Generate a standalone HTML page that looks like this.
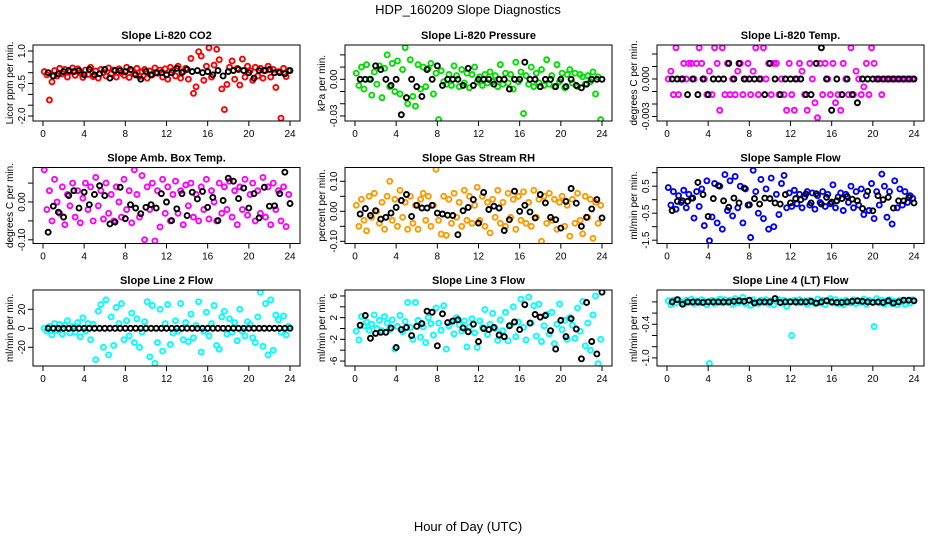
<!DOCTYPE html>
<html><head><meta charset="utf-8"><title>HDP_160209 Slope Diagnostics</title>
<style>
html,body{margin:0;padding:0;background:#fff;}
svg{display:block;font-family:"Liberation Sans",sans-serif;}
</style></head>
<body>
<svg id="chart" width="936" height="540" viewBox="0 0 936 540" xmlns="http://www.w3.org/2000/svg">
<rect x="0" y="0" width="936" height="540" fill="#fff"/>
<text x="468" y="14" text-anchor="middle" font-size="13">HDP_160209  Slope Diagnostics</text>
<text x="468" y="531" text-anchor="middle" font-size="13">Hour of Day (UTC)</text>
</svg>
<script>
// ---- shared data ----
const hoursBlack = [0.5,1,1.5,2,2.5,3,3.5,4,4.5,5,5.5,6,6.5,7,7.5,8,8.5,9,9.5,10,10.5,11,11.5,12,12.5,13,13.5,14,14.5,15,15.5,16,16.5,17,17.5,18,18.5,19,19.5,20,20.5,21,21.5,22,22.5,23,23.5,24];
const hoursColor = [0.125,0.375,0.625,0.875,1.125,1.375,1.625,1.875,2.125,2.375,2.625,2.875,3.125,3.375,3.625,3.875,4.125,4.375,4.625,4.875,5.125,5.375,5.625,5.875,6.125,6.375,6.625,6.875,7.125,7.375,7.625,7.875,8.125,8.375,8.625,8.875,9.125,9.375,9.625,9.875,10.125,10.375,10.625,10.875,11.125,11.375,11.625,11.875,12.125,12.375,12.625,12.875,13.125,13.375,13.625,13.875,14.125,14.375,14.625,14.875,15.125,15.375,15.625,15.875,16.125,16.375,16.625,16.875,17.125,17.375,17.625,17.875,18.125,18.375,18.625,18.875,19.125,19.375,19.625,19.875,20.125,20.375,20.625,20.875,21.125,21.375,21.625,21.875,22.125,22.375,22.625,22.875,23.125,23.375,23.625,23.875];
const xTicks = [0,4,8,12,16,20,24];
const xTickLabels = ["0","4","8","12","16","20","24"];

// ---- panel 1: CO2 ----
const co2Color = [0.05,-0.1,-1.26,-0.42,0.1,-0.15,0.2,-0.05,0.15,-0.2,0.05,0.22,
-0.12,0.18,0.0,-0.22,0.12,-0.08,0.25,-0.18,0.08,-0.25,0.15,0.02,
-0.15,0.22,-0.05,0.12,-0.2,0.18,0.0,-0.12,0.25,-0.22,0.1,-0.05,
0.2,-0.18,0.05,0.15,-0.25,0.08,-0.1,0.22,-0.02,0.12,-0.2,0.18,
-0.3,0.25,0.1,-0.15,0.3,-0.25,0.05,0.2,-0.3,0.66,-0.95,-0.65,
0.97,0.77,-0.35,0.3,1.15,-0.2,0.35,1.08,0.6,-0.75,-1.7,-0.54,
0.25,0.54,-0.3,0.2,-0.57,0.63,-0.2,0.3,0.1,-0.35,0.25,-0.15,
0.2,-0.25,0.1,0.3,-0.2,0.15,-0.68,0.05,-2.1,0.2,-0.18,0.1];
const co2Black = [0.0,-0.15,-0.05,0.05,0.1,0.05,0.1,-0.1,0.15,-0.1,-0.05,0.15,-0.25,0.1,0.1,0.05,0.15,-0.1,-0.3,0.05,-0.1,0.0,0.0,-0.1,0.0,0.2,0.0,0.15,0.05,0.1,0.0,0.05,-0.1,0.1,-0.15,0.05,0.1,0.15,0.1,0.0,-0.25,0.1,0.1,0.15,0.0,0.0,-0.05,0.1];
const co2Ticks = [1,0.5,0,-0.5,-1,-1.5,-2];
const co2TickLabels = ["1.0","","","-0.5","","","-2.0"];

// ---- panel 2: pressure ----
const presColor = [0.005,-0.005,0.01,-0.008,0.012,0.0,-0.013,0.006,-0.004,0.011,-0.015,0.009,
0.02,-0.006,0.013,-0.01,0.015,-0.012,0.008,0.026,-0.02,0.016,-0.014,-0.022,
0.012,-0.008,0.01,-0.006,0.009,0.013,-0.012,0.005,-0.033,0.007,-0.002,-0.004,
0.004,-0.005,0.011,0.003,-0.006,0.008,-0.003,0.005,-0.007,0.004,0.01,-0.002,
0.002,-0.005,0.004,-0.003,0.006,-0.002,0.003,-0.006,0.012,-0.004,0.005,-0.003,
0.004,-0.008,0.014,-0.002,0.006,-0.028,0.003,-0.004,0.01,-0.006,0.005,-0.003,
0.008,-0.005,0.016,-0.004,0.003,-0.006,0.012,-0.002,0.005,-0.007,0.004,0.008,
-0.003,0.005,-0.006,0.004,0.002,-0.004,0.003,-0.002,0.006,-0.012,0.002,-0.033];
const presBlack = [0.0,0.0,0.0,0.011,0.008,0.0,-0.005,0.0,-0.029,-0.015,0.0,-0.006,-0.014,0.008,0.0,0.011,-0.005,0.0,0.0,0.0,-0.005,0.009,-0.005,0.0,0.0,0.0,-0.004,0.0,0.0,-0.008,0.0,0.0,0.014,0.0,0.0,-0.006,0.0,0.0,-0.006,0.0,-0.006,0.0,-0.005,-0.007,-0.004,0.0,0.0,0.0];
const presTicks = [0.02,0.01,0,-0.01,-0.02,-0.03];
const presTickLabels = ["","","0.00","","","-0.03"];

// ---- panel 3: Li-820 temp ----
const tempColor = [0,0.000625,-0.00125,0.0025,-0.00125,0,0.00125,0,0.00125,0.00125,0,0.00125,
0.0025,0.00125,0,-0.00125,0.000625,-0.00125,0.0025,0.00125,-0.0025,0.0025,-0.00125,0.00125,
-0.00125,0,-0.00125,0.000625,0.00125,-0.00125,0,0.00125,-0.00125,0.000625,0.0025,-0.00125,
0,0.0025,0,0.00125,-0.00125,0.00125,0.00125,-0.00125,0,-0.00125,-0.0025,0.00125,
-0.00125,-0.0025,0,0.00125,0.000625,-0.00125,-0.0025,0.00125,0,-0.0019,-0.0031,0.00125,
-0.00125,0.00125,0,-0.00125,0.00125,-0.0019,-0.00125,-0.0025,0.00125,0,-0.00125,0.0025,
-0.00125,0.000625,0,-0.00125,-0.000625,0.00125,-0.00125,0.0025,0.00125,0,0,-0.00125,
0,0,0,0,0,0,0,0,0,0,0,0];
const tempBlack = [0,0,0,-0.00125,0,-0.00125,0,-0.00125,0,0,0,0.00125,0,0.00125,0,0,0,0,-0.00125,0.00125,0,-0.00125,0,0,0,0,-0.00125,-0.00125,0.00125,0.0025,0,-0.0025,0,-0.00125,0,-0.00125,-0.0019,0,0,0,0,0,0,0,0,0,0,0];
const tempTicks = [0.002,0.001,0,-0.001,-0.002,-0.003];
const tempTickLabels = ["","","0.000","","","-0.003"];

// ---- panel 4: amb box temp ----
const ambColor = [0.085,-0.02,0.03,-0.05,0.06,0.0,-0.03,0.04,-0.06,0.02,-0.01,0.05,
-0.04,0.03,-0.055,0.01,0.05,-0.02,0.04,-0.05,0.065,-0.01,0.03,-0.045,
0.05,-0.03,0.02,-0.05,0.04,0.0,-0.04,0.06,-0.02,0.03,-0.055,0.085,
0.02,-0.04,0.07,-0.1,0.04,-0.02,0.05,-0.103,0.03,-0.066,0.06,-0.03,
0.04,-0.05,0.02,0.055,-0.03,0.03,-0.06,0.045,-0.01,0.05,-0.04,0.02,
-0.05,0.04,-0.02,0.06,-0.045,0.03,0.0,-0.05,0.05,-0.03,0.04,-0.02,
0.055,-0.04,0.03,-0.06,0.04,-0.02,0.06,-0.035,0.02,0.05,-0.05,0.03,
-0.03,0.065,-0.04,0.04,-0.06,0.05,-0.02,0.03,-0.05,0.04,-0.065,0.02];
const ambBlack = [-0.08,-0.011,-0.027,-0.04,0.017,0.03,-0.016,0.026,-0.007,0.02,0.043,0.017,-0.058,-0.053,0.039,-0.044,-0.007,-0.016,-0.031,-0.014,-0.007,-0.016,0.022,0.0,-0.049,-0.018,0.022,-0.036,0.026,0.008,0.028,-0.014,0.012,-0.049,0.004,0.063,0.055,0.009,0.037,-0.016,0.022,-0.042,0.039,-0.011,-0.01,0.022,0.079,-0.004];
const ambTicks = [0.05,0,-0.05,-0.1];
const ambTickLabels = ["","0.00","","-0.10"];

// ---- panel 5: gas stream RH ----
const rhColor = [0.02,-0.05,0.04,-0.03,-0.065,0.05,-0.02,0.06,0.0,-0.04,0.03,-0.06,
0.05,0.1,-0.03,0.04,-0.05,0.07,-0.02,0.03,-0.06,0.05,-0.04,0.02,
-0.06,0.04,0.06,-0.03,0.05,-0.05,0.02,0.14,-0.03,-0.076,0.05,-0.08,
0.04,-0.04,0.06,-0.02,0.03,-0.05,0.07,-0.03,0.05,-0.04,0.02,0.08,
-0.03,0.05,-0.05,0.03,-0.072,0.04,-0.02,0.07,-0.04,0.03,-0.05,0.06,
-0.02,0.04,-0.06,0.05,-0.03,0.065,-0.04,0.03,-0.05,0.07,-0.02,0.04,
-0.1,0.05,-0.04,0.06,-0.03,0.04,-0.06,0.03,0.05,-0.05,0.02,-0.083,
0.04,-0.04,0.06,-0.03,-0.075,0.05,-0.02,0.04,-0.09,0.03,-0.04,0.02];
const rhBlack = [-0.009,0.009,-0.014,0.002,-0.026,-0.02,-0.006,0.013,0.036,0.056,-0.017,0.02,0.011,0.011,0.02,-0.006,-0.009,-0.013,-0.014,-0.078,0.002,0.013,0.039,-0.039,0.063,0.006,0.017,0.011,-0.064,-0.028,0.067,0.0,0.02,-0.002,-0.022,0.056,0.028,-0.02,-0.028,-0.056,0.033,0.076,0.027,-0.05,-0.02,0.008,0.039,-0.022];
const rhTicks = [0.1,0.05,0,-0.05,-0.1];
const rhTickLabels = ["0.10","","0.00","","-0.10"];

// ---- panel 6: sample flow ----
const flowColor = [0.45,-0.2,0.3,-0.35,0.15,-0.1,0.35,-0.3,0.2,0.05,-0.68,0.3,
-0.25,0.4,-0.96,0.7,-1.52,-0.64,0.6,-0.86,0.5,-1.09,0.93,-0.4,
0.7,-0.6,0.86,-0.3,0.5,-0.86,0.4,-0.2,-1.4,1.09,0.3,-0.5,
0.75,-0.7,0.4,-1.09,0.8,-1.0,0.2,-0.55,0.6,0.9,-0.3,0.25,
-0.25,0.35,-0.15,0.2,-0.3,0.1,0.3,-0.2,0.25,-0.35,0.15,-0.1,
0.3,-0.25,0.2,-0.15,0.55,-0.3,0.1,0.25,-0.4,0.2,-0.1,0.5,
-0.3,0.3,-0.2,0.4,-0.55,0.15,-0.4,0.6,-0.7,0.3,-0.2,0.95,
0.5,-0.65,0.3,-0.9,0.7,-0.3,0.4,-0.2,0.3,-0.1,0.15,0.05];
const flowBlack = [-0.4,-0.06,-0.04,-0.06,0.06,0.64,0.19,-0.62,0.04,0.52,-0.04,-0.28,0.06,-0.12,0.43,-0.19,0.04,-0.16,0.06,0.04,-0.12,-0.16,0.19,-0.12,0.04,0.0,0.21,-0.12,0.22,-0.16,0.09,-0.09,-0.04,0.04,0.12,0.02,-0.04,-0.33,0.31,-0.41,0.15,0.0,0.09,-0.31,-0.04,-0.04,0.09,-0.12];
const flowTicks = [1,0.5,0,-0.5,-1,-1.5];
const flowTickLabels = ["","0.5","","-0.5","","-1.5"];

// ---- panel 7: line 2 flow ----
const l2Color = [0,-3,2,-7,5,-2,4,-6,3,8,-5,2,
-4,6,-9,11,-3,5,-12,4,-33,18,25,-20,
30,-28,12,-18,22,5,26,-12,8,-8,16,-15,
10,-20,-4,7,28,-30,24,-37,-15,20,-24,5,
25,-17,-5,8,-3,26,-12,6,-14,15,-10,3,
28,-25,-3,17,-8,5,24,-18,-22,12,18,-6,
10,-4,6,-13,20,-3,-8,7,4,-10,-15,12,
38,-19,26,-28,30,-23,14,9,-4,13,-7,2];
const l2Black = [0,0,0,0,0,0,0,0,0,0,0,0,0,0,0,0,0,0,0,0,0,0,0,0,0,0,0,0,0,0,0,0,0,0,0,0,0,0,0,0,0,0,0,0,0,0,0,0];
const l2Ticks = [20,0,-20];
const l2TickLabels = ["20","0","-20"];

// ---- panel 8: line 3 flow ----
const l3Color = [-0.5,-2.1,2.2,0.5,1.2,-0.3,0.8,2.5,0.0,1.5,-0.4,2.2,
1.0,-0.2,1.6,-3.8,0.4,2.4,-0.6,1.3,4.8,0.2,-2.0,4.8,
1.5,-1.6,0.3,-2.6,2.0,0.9,-1.2,3.8,1.0,-0.3,4.2,-3.8,
0.5,1.2,-1.0,2.0,0.7,-0.5,1.4,-3.4,0.3,1.8,-0.8,-3.5,
1.4,0.2,3.5,-1.1,0.8,2.8,0.0,-2.2,1.6,-0.4,3.0,-2.3,
0.6,4.0,-1.5,1.2,5.4,0.2,-2.1,5.8,1.0,4.2,-1.4,4.5,
-2.4,0.5,2.6,-1.0,3.0,-2.8,0.8,4.5,-0.2,1.5,-2.0,2.0,
0.6,-1.8,3.8,-0.5,5.0,-3.2,1.0,-4.0,2.5,6.0,-6.5,-2.0];
const l3Black = [0.6,2.4,-1.8,-0.9,-0.7,-0.7,0.1,-3.5,-0.2,0.2,-1.3,0.4,0.9,3.2,3.0,-3.2,2.7,1.1,1.4,1.6,0.1,-0.6,0.8,-2.4,0.0,-0.2,0.2,-1.2,-1.5,0.5,1.2,-0.2,4.4,1.0,2.6,2.1,2.4,-0.4,-3.8,1.5,-1.5,1.8,-0.1,-5.6,4.8,-2.4,-4.7,6.7];
const l3Ticks = [6,4,2,0,-2,-4,-6];
const l3TickLabels = ["6","","2","","-2","","-6"];

// ---- panel 9: line 4 (LT) flow ----
const l4Color = [0.02,-0.05,0.03,-0.02,0.04,0.0,-0.04,0.03,-0.01,0.05,-0.03,0.02,
-0.02,0.04,0.01,-0.05,-1.10,0.03,-0.03,0.02,0.05,-0.02,0.04,-0.01,
0.03,-0.04,0.06,-0.02,0.01,0.08,-0.03,0.02,-0.06,0.04,0.0,-0.03,
0.03,-0.01,0.04,-0.03,0.02,-0.05,0.01,0.04,-0.02,0.03,-0.08,0.01,
-0.60,0.03,-0.02,0.04,-0.01,0.02,-0.04,0.03,0.0,-0.03,0.05,-0.02,
0.03,-0.05,0.02,0.06,-0.02,0.04,-0.03,0.01,-0.05,0.03,0.0,-0.02,
0.04,-0.03,0.02,-0.01,0.05,-0.04,0.03,0.01,-0.44,0.06,-0.02,0.03,
-0.04,0.02,0.04,-0.03,0.01,-0.05,0.03,0.0,-0.04,0.02,-0.02,0.04];
const l4Black = [0.0,0.04,-0.04,0.0,0.0,0.0,-0.01,0.0,0.0,0.0,0.0,0.0,0.01,0.02,0.01,0.03,-0.02,0.0,0.0,0.0,0.06,-0.01,0.0,0.0,0.0,0.0,0.0,0.01,-0.02,0.0,0.02,0.0,-0.01,-0.01,0.0,0.01,0.02,0.01,0.0,-0.01,0.0,-0.01,0.02,-0.02,0.0,0.03,0.03,0.02];
const l4Ticks = [0,-0.2,-0.4,-0.6,-0.8,-1.0];
const l4TickLabels = ["","","-0.4","","","-1.0"];

const panels = [
 {id:"co2",title:"Slope Li-820 CO2",ylab:"Licor ppm per min.",col:0,row:0,yZero:72.7,ppu:21.67,color:"#ff0000",c:co2Color,b:co2Black,t:co2Ticks,tl:co2TickLabels},
 {id:"pressure",title:"Slope Li-820 Pressure",ylab:"kPa per min.",col:1,row:0,yZero:79.3,ppu:1222,color:"#00e000",c:presColor,b:presBlack,t:presTicks,tl:presTickLabels},
 {id:"li820-temp",title:"Slope Li-820 Temp.",ylab:"degrees C per min.",col:2,row:0,yZero:79,ppu:12500,color:"#ff00ff",c:tempColor,b:tempBlack,t:tempTicks,tl:tempTickLabels},
 {id:"amb-box-temp",title:"Slope Amb. Box Temp.",ylab:"degrees C per min.",col:0,row:1,yZero:202,ppu:378,color:"#ff00ff",c:ambColor,b:ambBlack,t:ambTicks,tl:ambTickLabels},
 {id:"gas-stream-rh",title:"Slope Gas Stream RH",ylab:"percent per min.",col:1,row:1,yZero:211.3,ppu:300,color:"#ff9900",c:rhColor,b:rhBlack,t:rhTicks,tl:rhTickLabels},
 {id:"sample-flow",title:"Slope Sample Flow",ylab:"ml/min per min.",col:2,row:1,yZero:199.7,ppu:27,color:"#0000ff",c:flowColor,b:flowBlack,t:flowTicks,tl:flowTickLabels},
 {id:"line2-flow",title:"Slope Line 2 Flow",ylab:"ml/min per min.",col:0,row:2,yZero:328.3,ppu:0.95,color:"#00ffff",c:l2Color,b:l2Black,t:l2Ticks,tl:l2TickLabels},
 {id:"line3-flow",title:"Slope Line 3 Flow",ylab:"ml/min per min.",col:1,row:2,yZero:328.5,ppu:5.42,color:"#00ffff",c:l3Color,b:l3Black,t:l3Ticks,tl:l3TickLabels},
 {id:"line4-flow",title:"Slope Line 4 (LT) Flow",ylab:"ml/min per min.",col:2,row:2,yZero:301.9,ppu:56,color:"#00ffff",c:l4Color,b:l4Black,t:l4Ticks,tl:l4TickLabels}
];

const NS = "http://www.w3.org/2000/svg";
const svg = document.getElementById("chart");
function mk(tag, attrs, parent){
  const e = document.createElementNS(NS, tag);
  for (const k in attrs) e.setAttribute(k, attrs[k]);
  parent.appendChild(e);
  return e;
}

panels.forEach(p => {
  const x0 = 43 + 312 * p.col;
  const top = 45 + 122.5 * p.row;
  const left = x0 - 10, w = 267, h = 76, bottom = top + h;
  const xAt = v => x0 + v * (247 / 24);
  const yAt = v => p.yZero - v * p.ppu;

  const g = mk("g", {}, svg);
  
  

  const clipId = "clip-" + p.id;
  const cp = mk("clipPath", {id: clipId}, g);
  mk("rect", {x:left, y:top, width:w, height:h}, cp);

  const title = mk("text", {x: left + w/2, y: top - 6, "text-anchor":"middle", "font-size":"11", "font-weight":"bold"}, g);
  title.textContent = p.title;
  
  

  const yl = mk("text", {transform:`translate(${left-20},${top+h/2}) rotate(-90)`, "text-anchor":"middle", "font-size":"10"}, g);
  yl.textContent = p.ylab;
  
  

  const xa = mk("g", {stroke:"#000", "stroke-width":"1"}, g);
  
  
  xTicks.forEach((t, i) => {
    mk("line", {x1:xAt(t), x2:xAt(t), y1:bottom, y2:bottom+5}, xa);
    const tx = mk("text", {x:xAt(t), y:bottom+16, "text-anchor":"middle", "font-size":"10", stroke:"none", fill:"#000"}, xa);
    tx.textContent = xTickLabels[i];
    
    
  });
  const ya = mk("g", {stroke:"#000", "stroke-width":"1"}, g);
  
  
  p.t.forEach((t, i) => {
    mk("line", {x1:left-5, x2:left, y1:yAt(t), y2:yAt(t)}, ya);
    if (p.tl[i]) {
      const tx = mk("text", {transform:`translate(${left-8},${yAt(t)}) rotate(-90)`, "text-anchor":"middle", "font-size":"10", stroke:"none", fill:"#000"}, ya);
      tx.textContent = p.tl[i];
      
      
    }
  });

  const pts = mk("g", {"clip-path":`url(#${clipId})`, fill:"none", "stroke-width":"1.9"}, g);
  
  
  p.c.forEach((v, i) => {
    const c = mk("circle", {cx:xAt(hoursColor[i]), cy:yAt(v), r:2.5, stroke:p.color}, pts);
    
    
  });
  p.b.forEach((v, i) => {
    const c = mk("circle", {cx:xAt(hoursBlack[i]), cy:yAt(v), r:2.5, stroke:"#000"}, pts);
    
    
  });

  const box = mk("rect", {x:left, y:top, width:w, height:h, fill:"none", stroke:"#000", "stroke-width":"1"}, g);
  
  
});
</script>
</body></html>
